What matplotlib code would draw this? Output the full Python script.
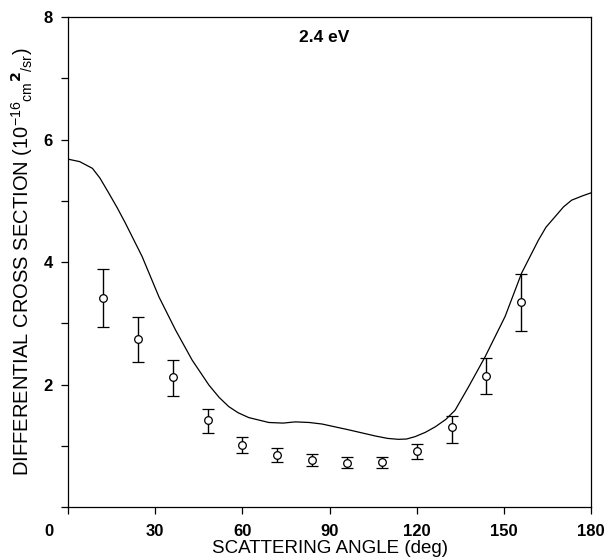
import matplotlib.pyplot as plt
from matplotlib.transforms import ScaledTranslation

plt.rcParams['font.family'] = ['Liberation Sans', 'DejaVu Sans']
plt.rcParams['mathtext.fontset'] = 'custom'
plt.rcParams['mathtext.rm'] = 'Liberation Sans'
plt.rcParams['mathtext.it'] = 'Liberation Sans'

# theory curve
curve_angle = [0, 4, 8.4, 11, 14.1, 17, 19.8, 25.5, 31.3, 37.0, 42.7, 48.5, 52, 55.3,
               58.5, 62.2, 69.1, 74, 78.2, 83, 87.4, 96.6, 105.7, 110, 113.7, 116.5,
               119.5, 123, 126.4, 130, 133.2, 137.8, 143.5, 150.4, 156.1, 161.9,
               164.5, 167.6, 170.5, 173.3, 177, 180]
curve_dcs = [5.68, 5.64, 5.53, 5.37, 5.12, 4.88, 4.63, 4.09, 3.43, 2.89, 2.40, 1.99, 1.79, 1.64,
             1.54, 1.46, 1.38, 1.37, 1.39, 1.38, 1.355, 1.26, 1.16, 1.12, 1.105, 1.11,
             1.15, 1.22, 1.31, 1.43, 1.58, 1.96, 2.45, 3.11, 3.82, 4.36,
             4.57, 4.74, 4.90, 5.01, 5.08, 5.13]

# measured points with error bars
meas_angle = [12, 24, 36, 48, 60, 72, 84, 96, 108, 120, 132, 144, 156]
meas_dcs = [3.42, 2.74, 2.12, 1.415, 1.01, 0.855, 0.77, 0.72, 0.73, 0.91, 1.31, 2.14, 3.35]
err_top = [3.89, 3.11, 2.40, 1.60, 1.14, 0.97, 0.865, 0.81, 0.81, 1.03, 1.49, 2.43, 3.80]
err_bot = [2.94, 2.36, 1.82, 1.21, 0.88, 0.74, 0.67, 0.63, 0.63, 0.78, 1.04, 1.84, 2.88]

xticks = [0, 30, 60, 90, 120, 150, 180]
yticks = [2, 4, 6, 8]

fig = plt.figure(figsize=(6.1, 5.58), dpi=100)
ax = fig.add_axes([0.1115, 0.0914, 0.8575, 0.878])

ax.plot(curve_angle, curve_dcs, color='black', lw=0.9)

lower = [m - b for m, b in zip(meas_dcs, err_bot)]
upper = [t - m for m, t in zip(meas_dcs, err_top)]
ax.errorbar(meas_angle, meas_dcs, yerr=[lower, upper], fmt='o', mfc='white',
            mec='black', ecolor='black', ms=5.5, mew=0.9, elinewidth=1.0,
            capsize=4, capthick=1.0)

ax.text(88, 7.66, '2.4 eV', ha='center', va='center', fontsize=12.5, fontweight='bold')

ax.set_xlim(0, 180)
ax.set_ylim(0, 8)
ax.set_xticks(xticks)
ax.set_yticks(yticks)
ax.set_yticks([0, 1, 3, 5, 7], minor=True)
ax.tick_params(axis='both', which='both', direction='out', length=5, width=0.9,
               labelsize=12)
ax.tick_params(axis='x', pad=7)
ax.tick_params(axis='y', pad=6)
for lab in ax.get_xticklabels() + ax.get_yticklabels():
    lab.set_fontweight('bold')

# the "0" label sits left of the corner
zero = ax.get_xticklabels()[0]
zero.set_transform(zero.get_transform() + ScaledTranslation(-0.19, 0, fig.dpi_scale_trans))

for s in ax.spines.values():
    s.set_linewidth(0.9)

ax.set_xlabel('SCATTERING ANGLE (deg)', fontsize=13.5, labelpad=1)
ax.set_ylabel(r'DIFFERENTIAL CROSS SECTION (10$^{-16}$$_{\mathrm{cm}}$$^{\mathbf{2}}$$_{\mathrm{/sr}}$)',
              fontsize=14.5, labelpad=6)

fig.savefig('out.png', dpi=100)
